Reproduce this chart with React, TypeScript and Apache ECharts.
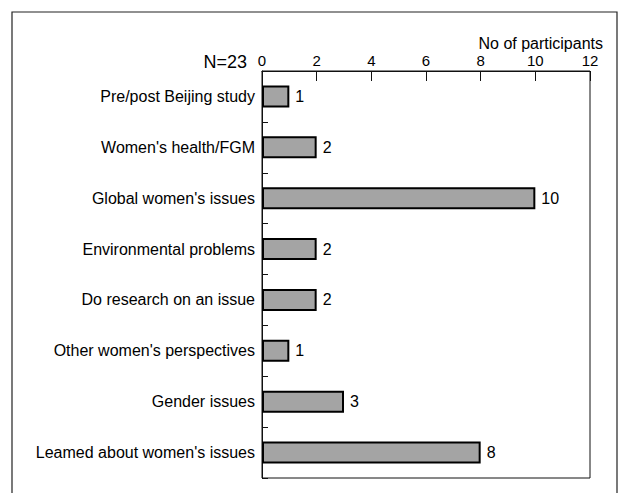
import React, { useEffect, useRef } from "react";
import * as echarts from "echarts";

const categories = [
  "Pre/post Beijing study",
  "Women's health/FGM",
  "Global women's issues",
  "Environmental problems",
  "Do research on an issue",
  "Other women's perspectives",
  "Gender issues",
  "Leamed about women's issues",
];
const values = [1, 2, 10, 2, 2, 1, 3, 8];
const sampleLabel = "N=23";
const axisTitle = "No of participants";

const FONT = "'Liberation Sans', Arial, Helvetica, sans-serif";

export default function App() {
  const ref = useRef<HTMLDivElement>(null);
  useEffect(() => {
    if (!ref.current) return;
    const chart = echarts.init(ref.current, undefined, { renderer: "svg" });
    chart.setOption({
      animation: false,
      backgroundColor: "#fff",
      textStyle: { fontFamily: FONT, color: "#000" },
      grid: {
        left: 262,
        right: 33,
        top: 71,
        bottom: 15,
        show: true,
        borderColor: "#111",
        borderWidth: 1,
        backgroundColor: "transparent",
      },
      xAxis: {
        type: "value",
        position: "top",
        min: 0,
        max: 12,
        interval: 2,
        axisLine: { show: true, lineStyle: { color: "#111", width: 1 } },
        axisTick: { show: true, inside: true, length: 10, lineStyle: { color: "#111" } },
        axisLabel: { fontSize: 15, color: "#000", fontFamily: FONT, margin: 3 },
        splitLine: { show: false },
      },
      yAxis: {
        type: "category",
        inverse: true,
        data: categories,
        axisLine: { show: true, lineStyle: { color: "#111", width: 1 } },
        axisTick: { show: true, inside: true, length: 6, lineStyle: { color: "#111" } },
        axisLabel: { fontSize: 16, color: "#000", fontFamily: FONT, margin: 7 },
        splitLine: { show: false },
      },
      series: [
        {
          type: "bar",
          data: values,
          barWidth: 22,
          itemStyle: { color: "#a4a4a4", borderColor: "#000", borderWidth: 2 },
          label: {
            show: true,
            position: "right",
            distance: 6,
            fontSize: 16,
            color: "#000",
            fontFamily: FONT,
          },
        },
      ],
      graphic: [
        {
          type: "rect",
          shape: { x: 12, y: 12, width: 605, height: 495 },
          style: { fill: "none", stroke: "#222", lineWidth: 1.2 },
          silent: true,
        },
        {
          type: "text",
          x: 247,
          y: 62,
          style: {
            text: sampleLabel,
            fontSize: 18,
            fontFamily: FONT,
            fill: "#000",
            align: "right",
            verticalAlign: "middle",
          },
        },
        {
          type: "text",
          x: 603,
          y: 43,
          style: {
            text: axisTitle,
            fontSize: 16,
            fontFamily: FONT,
            fill: "#000",
            align: "right",
            verticalAlign: "middle",
          },
        },
      ],
    });
    return () => chart.dispose();
  }, []);
  return (
    <div
      ref={ref}
      style={{ position: "fixed", left: 0, top: 0, width: 623, height: 493 }}
    />
  );
}
